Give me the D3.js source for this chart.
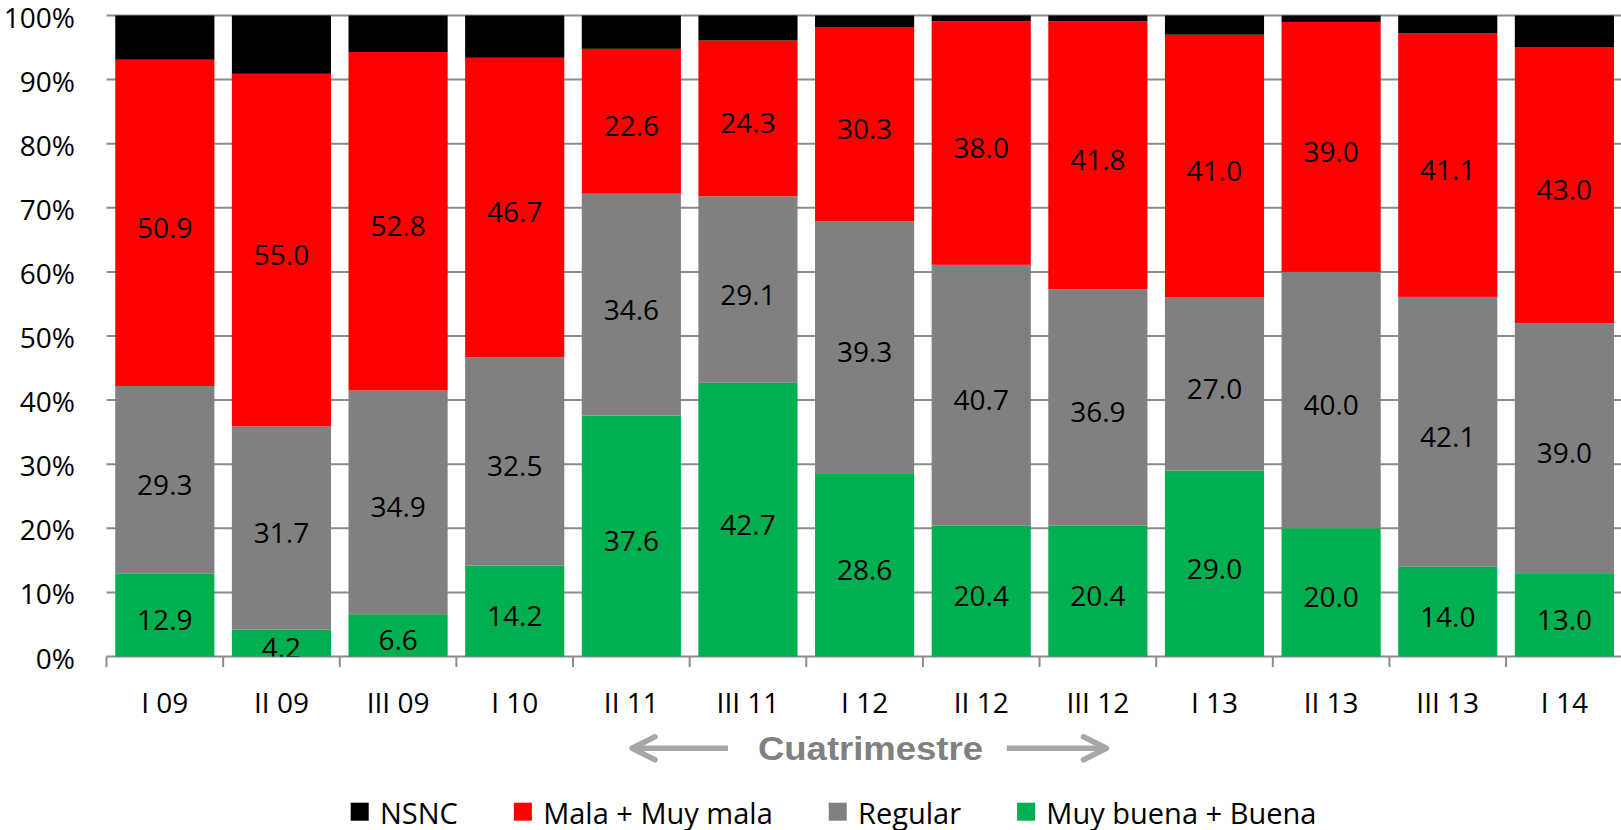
<!DOCTYPE html>
<html><head><meta charset="utf-8">
<script src="https://cdn.jsdelivr.net/npm/d3@7"></script>
<style>
body{margin:0;background:#fff;}
svg text{font-family:"Open Sans",sans-serif;}
</style>
</head><body>
<svg id="chart" width="1621" height="830"></svg>
<script>
// ---- data ----
const categories = ["I 09","II 09","III 09","I 10","II 11","III 11","I 12","II 12","III 12","I 13","II 13","III 13","I 14"];
const muyBuenaBuena = [12.9,4.2,6.6,14.2,37.6,42.7,28.6,20.4,20.4,29.0,20.0,14.0,13.0];
const regular       = [29.3,31.7,34.9,32.5,34.6,29.1,39.3,40.7,36.9,27.0,40.0,42.1,39.0];
const malaMuyMala   = [50.9,55.0,52.8,46.7,22.6,24.3,30.3,38.0,41.8,41.0,39.0,41.1,43.0];
const nsnc          = [6.9,9.1,5.7,6.6,5.2,3.9,1.8,0.9,0.9,3.0,1.0,2.8,5.0];
const seriesNames   = ["Muy buena + Buena","Regular","Mala + Muy mala","NSNC"];
const seriesColors  = ["#00B050","#808080","#FF0000","#000000"];
const labelledSeries = ["Muy buena + Buena","Regular","Mala + Muy mala"];
const legendOrder   = ["NSNC","Mala + Muy mala","Regular","Muy buena + Buena"];
const yTicks        = [0,10,20,30,40,50,60,70,80,90,100];
const axisTitle     = "Cuatrimestre";

// ---- build table ----
const seriesValues = {"Muy buena + Buena":muyBuenaBuena,"Regular":regular,"Mala + Muy mala":malaMuyMala,"NSNC":nsnc};
const table = categories.map((c,i)=>{
  const row = {cat:c};
  seriesNames.forEach(s=>row[s]=seriesValues[s][i]);
  return row;
});
const color = d3.scaleOrdinal().domain(seriesNames).range(seriesColors);

// ---- layout ----
const pLeft = 106.5, pRight = 1622.7, pTop = 15.5, pBottom = 656.5;
const svg = d3.select("#chart");
const x = d3.scaleBand().domain(categories).range([pLeft,pRight]).paddingInner(0.15).paddingOuter(0.075);
const y = d3.scaleLinear().domain([0,100]).range([pBottom,pTop]);
const step = x.step();

// gridlines
svg.append("g").selectAll("line").data(yTicks).join("line")
  .attr("x1",pLeft).attr("x2",1621)
  .attr("y1",d=>y(d)).attr("y2",d=>y(d))
  .attr("stroke","#8c8c8c").attr("stroke-width",2);

// x-axis tick marks at band boundaries
const boundaries = categories.map(c=>x(c)-(step-x.bandwidth())/2);
svg.append("g").selectAll("line").data(boundaries).join("line")
  .attr("x1",d=>d).attr("x2",d=>d)
  .attr("y1",pBottom).attr("y2",pBottom+10.5)
  .attr("stroke","#8c8c8c").attr("stroke-width",2);

// y tick labels
svg.append("g").selectAll("text").data(yTicks).join("text")
  .attr("x",75).attr("y",d=>y(d)+12)
  .attr("text-anchor","end").attr("font-size",28).attr("fill","#000")
  .text(d=>d+"%");

// stacked bars
const stacked = d3.stack().keys(seriesNames)(table);
const layers = svg.append("g").selectAll("g").data(stacked).join("g")
  .attr("fill",d=>color(d.key));
layers.selectAll("rect").data(d=>d).join("rect")
  .attr("x",d=>x(d.data.cat))
  .attr("width",x.bandwidth())
  .attr("y",d=>y(d[1]))
  .attr("height",d=>y(d[0])-y(d[1]));

// labels clipped to plot
svg.append("clipPath").attr("id","plotclip").append("rect")
  .attr("x",pLeft).attr("y",pTop).attr("width",pRight-pLeft).attr("height",pBottom-pTop);
const labelG = svg.append("g").attr("clip-path","url(#plotclip)");
stacked.filter(s=>labelledSeries.includes(s.key)).forEach(s=>{
  labelG.append("g").selectAll("text").data(s).join("text")
    .attr("x",d=>x(d.data.cat)+x.bandwidth()/2)
    .attr("y",d=>(y(d[0])+y(d[1]))/2+15)
    .attr("text-anchor","middle").attr("font-size",28).attr("fill","#000")
    .text(d=>d3.format(".1f")(d[1]-d[0]));
});

// x category labels
svg.append("g").selectAll("text").data(categories).join("text")
  .attr("x",d=>x(d)+x.bandwidth()/2).attr("y",713)
  .attr("text-anchor","middle").attr("font-size",28).attr("fill","#000")
  .text(d=>d);

// axis title with arrows
const arrowColor = "#a6a6a6", ay = 748.3;
const ag = svg.append("g").attr("stroke",arrowColor).attr("stroke-width",5.5)
  .attr("fill","none").attr("stroke-linecap","round").attr("stroke-linejoin","round");
ag.append("line").attr("x1",634).attr("x2",728).attr("y1",ay).attr("y2",ay).attr("stroke-linecap","butt");
ag.append("polyline").attr("points",`655,${ay-11.5} 632,${ay} 655,${ay+11.5}`);
ag.append("line").attr("x1",1006.7).attr("x2",1104).attr("y1",ay).attr("y2",ay).attr("stroke-linecap","butt");
ag.append("polyline").attr("points",`1083.5,${ay-11.5} 1106.5,${ay} 1083.5,${ay+11.5}`);
svg.append("text").attr("x",758).attr("y",760)
  .style("font-family","'Liberation Sans',Arial,sans-serif")
  .attr("font-weight","bold").attr("font-size",33).attr("fill","#808080")
  .attr("textLength",225).attr("lengthAdjust","spacingAndGlyphs")
  .text(axisTitle);

// legend
const lg = svg.append("g");
let lx = 350.7;
legendOrder.forEach(name=>{
  lg.append("rect").attr("x",lx).attr("y",802.7).attr("width",18).attr("height",18).attr("fill",color(name));
  const t = lg.append("text").attr("x",lx+29.3).attr("y",823.5)
    .attr("font-size",29).attr("fill","#000").text(name);
  lx += 29.3 + t.node().getComputedTextLength() + 56;
});
</script>
</body></html>
